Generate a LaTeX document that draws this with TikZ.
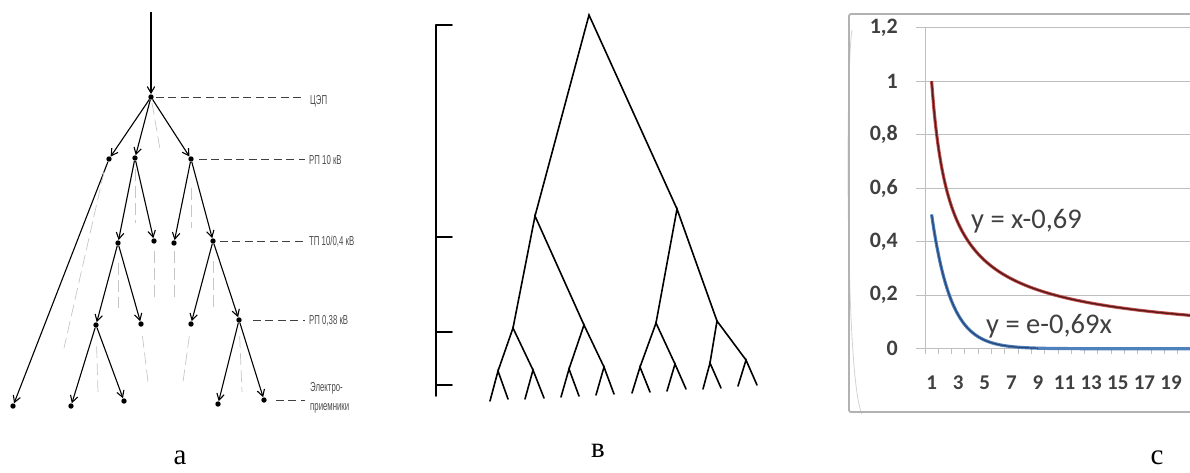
\documentclass[tikz,border=0pt]{standalone}
\usepackage{fontspec}
\usepackage{graphicx}
\setmainfont{Liberation Serif}
\newfontfamily\gostfont{Liberation Sans}
\newfontfamily\calfont{Carlito}
\usetikzlibrary{arrows.meta}
\definecolor{gridc}{RGB}{190,190,190}
\definecolor{txtc}{RGB}{64,64,64}
\definecolor{redo}{RGB}{192,80,77}
\definecolor{redi}{RGB}{90,25,25}
\definecolor{blueo}{RGB}{79,129,189}
\definecolor{bluei}{RGB}{40,70,120}
\begin{document}
\begin{tikzpicture}[x=1pt,y=-1pt,
  dot/.style={circle,fill=black,inner sep=0pt,minimum size=5.4pt},
  arr/.style={line width=1.1pt,-{Straight Barb[length=6.5pt,width=7.5pt]}},
  guide/.style={gray!45,line width=0.7pt,dash pattern=on 12pt off 5pt},
  leader/.style={line width=0.7pt,black!75,dash pattern=on 8pt off 4.5pt},
  lvl/.style={anchor=west,inner sep=0pt,text=black!70,font=\gostfont\fontsize{13}{14}\selectfont},
  br/.style={line width=1.6pt,line cap=round},
  figcap/.style={anchor=base,inner sep=0pt,font=\fontsize{29}{30}\selectfont},
  ylab/.style={anchor=east,inner sep=0pt,text=txtc,font=\calfont\bfseries\fontsize{22}{24}\selectfont},
  xlab/.style={anchor=center,inner sep=0pt,text=txtc,font=\calfont\bfseries\fontsize{21}{23}\selectfont},
  eq/.style={anchor=west,inner sep=0pt,text=txtc,font=\calfont\fontsize{28.5}{30}\selectfont}]
\useasboundingbox (0,0) rectangle (1190,472);

% ================= panel a =================
\coordinate (top) at (151,12);
\node[dot] (n0) at (151,97) {};
\node[dot] (r1) at (109,159) {};
\node[dot] (r2) at (135,158) {};
\node[dot] (r3) at (191,159) {};
\node[dot] (t1) at (118,243) {};
\node[dot] (t2) at (154,241) {};
\node[dot] (t3) at (174,243) {};
\node[dot] (t4) at (213,241) {};
\node[dot] (p1) at (96,325) {};
\node[dot] (p2) at (141,324) {};
\node[dot] (p3) at (191,324) {};
\node[dot] (p4) at (239,320) {};
\node[dot] (e0) at (13,406) {};
\node[dot] (e1) at (71,406) {};
\node[dot] (e2) at (124,401) {};
\node[dot] (e3) at (218,404) {};
\node[dot] (e4) at (264,400) {};

\draw[arr] (top) -- (n0);
\draw[arr] (n0) -- (r1);
\draw[arr] (n0) -- (r2);
\draw[arr] (n0) -- (r3);
\draw[arr] (r1) -- (e0);
\draw[arr] (r2) -- (t1);
\draw[arr] (r2) -- (t2);
\draw[arr] (r3) -- (t3);
\draw[arr] (r3) -- (t4);
\draw[arr] (t1) -- (p1);
\draw[arr] (t1) -- (p2);
\draw[arr] (t4) -- (p3);
\draw[arr] (t4) -- (p4);
\draw[arr] (p1) -- (e1);
\draw[arr] (p1) -- (e2);
\draw[arr] (p4) -- (e3);
\draw[arr] (p4) -- (e4);

% gray guide lines
\coordinate (g0) at (160,149);
\coordinate (g1a) at (104,172); \coordinate (g1b) at (64,348);
\coordinate (g2b) at (135,223);
\coordinate (g3b) at (191,228);
\coordinate (g4b) at (118,308);
\coordinate (g5b) at (154,298);
\coordinate (g6b) at (174,298);
\coordinate (g7b) at (213,308);
\coordinate (g8b) at (98,393);
\coordinate (g9b) at (148,382);
\coordinate (g10b) at (183,382);
\coordinate (g11b) at (242,392);
\draw[guide,shorten <=3pt] (n0) -- (g0);
\draw[guide] (g1a) -- (g1b);
\draw[guide,shorten <=8pt] (r2) -- (g2b);
\draw[guide,shorten <=26pt] (r3) -- (g3b);
\draw[guide,shorten <=17pt] (t1) -- (g4b);
\draw[guide,shorten <=7pt] (t2) -- (g5b);
\draw[guide,shorten <=5pt] (t3) -- (g6b);
\draw[guide,shorten <=17pt] (t4) -- (g7b);
\draw[guide,shorten <=18pt] (p1) -- (g8b);
\draw[guide,shorten <=9pt] (p2) -- (g9b);
\draw[guide,shorten <=9pt] (p3) -- (g10b);
\draw[guide,shorten <=13pt] (p4) -- (g11b);

% level leaders and labels
\coordinate (l0) at (305,97);
\coordinate (l1) at (305,159);
\coordinate (l2) at (305,241);
\coordinate (l3) at (305,320);
\coordinate (l4) at (305,400);
\draw[leader,shorten <=2pt] (n0) -- (l0);
\draw[leader,shorten <=5pt] (r3) -- (l1);
\draw[leader,shorten <=4pt] (t4) -- (l2);
\draw[leader,shorten <=11pt] (p4) -- (l3);
\draw[leader,shorten <=9pt] (e4) -- (l4);
\node[lvl] (lab0) at (310,101) {\scalebox{0.6}[1]{ЦЭП}};
\node[lvl] (lab1) at (309,160) {\scalebox{0.6}[1]{РП 10 кВ}};
\node[lvl] (lab2) at (309,242) {\scalebox{0.6}[1]{ТП 10/0,4 кВ}};
\node[lvl] (lab3) at (309,321) {\scalebox{0.6}[1]{РП 0,38 кВ}};
\node[lvl] (lab4a) at (310,388) {\scalebox{0.6}[1]{Электро-}};
\node[lvl] (lab4b) at (310,408) {\scalebox{0.6}[1]{приемники}};
\node[figcap] (capa) at (180,464) {а};

% ================= panel b =================
\draw[br] (436,25) -- (436,396);
\foreach \yy in {25,237,332,385} \draw[br] (436,\yy) -- (452,\yy);

\coordinate (root) at (589,15);
\coordinate (L) at (535,216);
\coordinate (R) at (677,209);
\coordinate (LL) at (513,328);
\coordinate (LR) at (584,325);
\coordinate (RL) at (656,323);
\coordinate (RR) at (717,321);
\coordinate (a1) at (498,371);
\coordinate (a2) at (533,370);
\coordinate (a3) at (569,369);
\coordinate (a4) at (604,367);
\coordinate (a5) at (640,367);
\coordinate (a6) at (675,364);
\coordinate (a7) at (710,363);
\coordinate (a8) at (746,360);
\draw[br] (L) -- (root) -- (R);
\draw[br] (LL) -- (L) -- (LR);
\draw[br] (RL) -- (R) -- (RR);
\draw[br] (a1) -- (LL) -- (a2);
\draw[br] (a3) -- (LR) -- (a4);
\draw[br] (a5) -- (RL) -- (a6);
\draw[br] (a7) -- (RR) -- (a8);
\foreach \n/\xa/\ya/\xb/\yb in {a1/490/401/508/399, a2/525/399/544/398, a3/561/397/579/396, a4/596/395/614/394, a5/632/393/650/392, a6/667/391/686/389, a7/703/389/721/388, a8/738/386/757/385}{
  \coordinate (\n l) at (\xa,\ya);
  \coordinate (\n r) at (\xb,\yb);
  \draw[br] (\n l) -- (\n) -- (\n r);
}
\node[figcap] (capb) at (598,457) {в};

% ================= panel c =================
\begin{scope}
\clip (835,0) rectangle (1190,472);
\draw[gray!35,line width=0.8pt] (852,30) .. controls (846,60) and (845,380) .. (862,414);
\draw[gray!60,line width=1.8pt,rounded corners=2pt] (849,14) rectangle (1210,412);
% grid
\foreach \v/\t in {0/0,1/{0,2},2/{0,4},3/{0,6},4/{0,8},5/1,6/{1,2}}{
  \draw[gridc,line width=0.9pt] (916,{348.7-53.5*\v}) -- (1195,{348.7-53.5*\v});
  \node[ylab] at (898,{348.7-53.5*\v}) {\t};
}
\draw[gridc,line width=1pt] (925,27) -- (925,353);
\foreach \k in {0,...,20} \draw[gridc,line width=0.9pt] ({925+13.3*\k},348.7) -- ({925+13.3*\k},354);
\foreach \k in {1,3,...,19} \node[xlab] at ({931.6+(\k-1)*13.3},383) {\k};
% curves
\draw[redo,line width=3.2pt] plot[domain=1:21,samples=120,smooth] ({931.6+(\x-1)*13.3},{348.7-267.5*exp(-0.69*ln(\x))});
\draw[redi,line width=1.4pt] plot[domain=1:21,samples=120,smooth] ({931.6+(\x-1)*13.3},{348.7-267.5*exp(-0.69*ln(\x))});
\draw[blueo,line width=3.2pt] plot[domain=1:21,samples=120,smooth] ({931.6+(\x-1)*13.3},{348.7-267.5*exp(-0.69*\x)});
\draw[bluei,line width=1.2pt] plot[domain=1:9,samples=60,smooth] ({931.6+(\x-1)*13.3},{348.7-267.5*exp(-0.69*\x)});
\node[eq] (eq1) at (971,221) {y = x-0,69};
\node[eq] (eq2) at (986,326) {y = e-0,69x};
\end{scope}
\node[figcap] (capc) at (1157,464) {c};
\end{tikzpicture}
\end{document}
